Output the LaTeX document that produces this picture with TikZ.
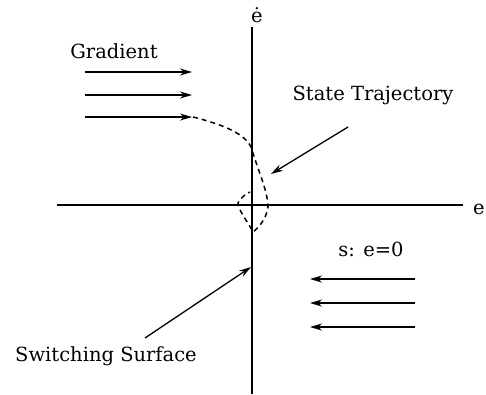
\documentclass[tikz,border=0pt]{standalone}
\usepackage{fontspec}
\setmainfont{DejaVu Serif}
\usetikzlibrary{arrows.meta}
\tikzset{
  axis/.style={line width=1.5pt},
  arr/.style={line width=1.3pt,-{Stealth[length=12pt,width=7pt]}},
  traj/.style={line width=1.5pt,dash pattern=on 5pt off 4pt},
  lbl/.style={inner sep=0pt,font=\fontsize{19.5}{22}\selectfont},
}
\begin{document}
\begin{tikzpicture}[x=1pt,y=-1pt]
\useasboundingbox (0,0) rectangle (486,394);
% axes
\coordinate (vtop) at (252,27);
\coordinate (vbot) at (252,394);
\coordinate (hl) at (57,205);
\coordinate (hr) at (463,205);
\draw[axis] (vtop) -- (vbot);
\draw[axis] (hl) -- (hr);
\node[lbl] (edot) at (257,15) {ė};
\node[lbl] (e) at (479,209) {e};
% gradient
\node[lbl] (grad) at (114,51) {Gradient};
\coordinate (g1a) at (85,72);  \coordinate (g1b) at (192,72);
\coordinate (g2a) at (85,95);  \coordinate (g2b) at (192,95);
\coordinate (g3a) at (85,117); \coordinate (g3b) at (192,117);
\draw[arr] (g1a) -- (g1b);
\draw[arr] (g2a) -- (g2b);
\draw[arr] (g3a) -- (g3b);
% trajectory
\coordinate (t0) at (193,117);
\draw[traj] (t0) .. controls (225,125) and (248,135) .. (252,150)
  .. controls (258,170) and (268,192) .. (268,207)
  .. controls (266,220) and (258,228) .. (253,232)
  .. controls (248,222) and (238,210) .. (238,203)
  .. controls (240,198) and (246,194) .. (250,192);
% state trajectory
\node[lbl] (st) at (373,95) {State Trajectory};
\coordinate (sttip) at (271,174);
\draw[arr] (348,127) -- (sttip);
% s: e=0
\node[lbl] (s) at (371,249) {s: e=0};
\coordinate (s1a) at (415,279); \coordinate (s1b) at (310,279);
\coordinate (s2a) at (415,303); \coordinate (s2b) at (310,303);
\coordinate (s3a) at (415,327); \coordinate (s3b) at (310,327);
\draw[arr] (s1a) -- (s1b);
\draw[arr] (s2a) -- (s2b);
\draw[arr] (s3a) -- (s3b);
% switching surface
\node[lbl] (sw) at (106,356) {Switching Surface};
\coordinate (swtip) at (251,267);
\draw[arr] (145,338) -- (swtip);
\end{tikzpicture}
\end{document}
